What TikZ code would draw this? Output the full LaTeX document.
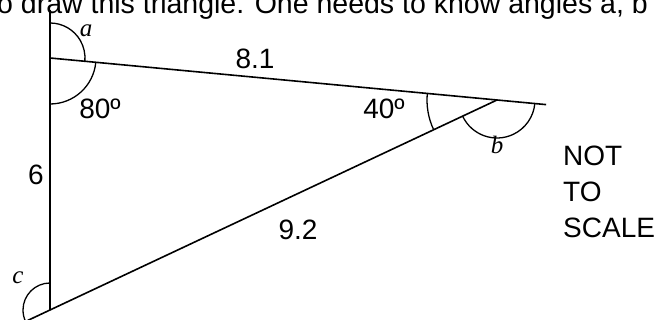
\documentclass[tikz,border=0pt]{standalone}
\usepackage{fontspec}
\setmainfont{Liberation Sans}
\newfontfamily\letterfont{Liberation Serif}
\usetikzlibrary{calc}

\begin{document}
\begin{tikzpicture}[
    x=1pt, y=1pt,
    side/.style={line width=1.6pt},
    anglearc/.style={line width=1.3pt},
    lbl/.style={font=\fontsize{28}{36}\selectfont, inner sep=0pt},
    letter/.style={font=\letterfont\itshape\fontsize{25}{30}\selectfont, inner sep=0pt}
]
\clip (0,0) rectangle (660,320);
\coordinate (A) at (50,262);
\coordinate (B) at (497,220);
\coordinate (C) at (50,10);
\coordinate (top) at (50,310);
\coordinate (far) at ($(A)!1.11!(B)$);
\coordinate (tail) at ($(B)!1.05!(C)$);
% sides
\draw[side] (top) -- (C);
\draw[side] (A) -- (far);
\draw[side] (tail) -- (B);
% angles
\draw[anglearc] ($(A)+(90:35)$) arc[start angle=90, end angle=-5.4, radius=35];
\draw[anglearc] ($(A)+(-5.4:46)$) arc[start angle=-5.4, end angle=-90, radius=46];
\draw[anglearc] ($(B)+(174.6:70)$) arc[start angle=174.6, end angle=205.2, radius=70];
\draw[anglearc] ($(B)+(205.2:38)$) arc[start angle=205.2, end angle=354.6, radius=38];
\draw[anglearc] ($(C)+(90:27)$) arc[start angle=90, end angle=205.2, radius=27];
% labels
\node[lbl, font=\fontsize{28.5}{36}\selectfont, anchor=base west] (caption) at (-3,306) {o draw this triangle. One needs to know angles a, b};
\node[letter] (la) at (86,289) {a};
\node[letter] (lb) at (497,175) {b};
\node[letter] (lc) at (18,42) {c};
\node[lbl] (ang80) at (100,211) {80º};
\node[lbl] (ang40) at (384,211) {40º};
\node[lbl] (len81) at (255,261) {8.1};
\node[lbl] (len6) at (36,145) {6};
\node[lbl] (len92) at (298,90) {9.2};
\node[lbl, align=left, anchor=north west] (note) at (563,174) {NOT\\TO\\SCALE};
\end{tikzpicture}
\end{document}
